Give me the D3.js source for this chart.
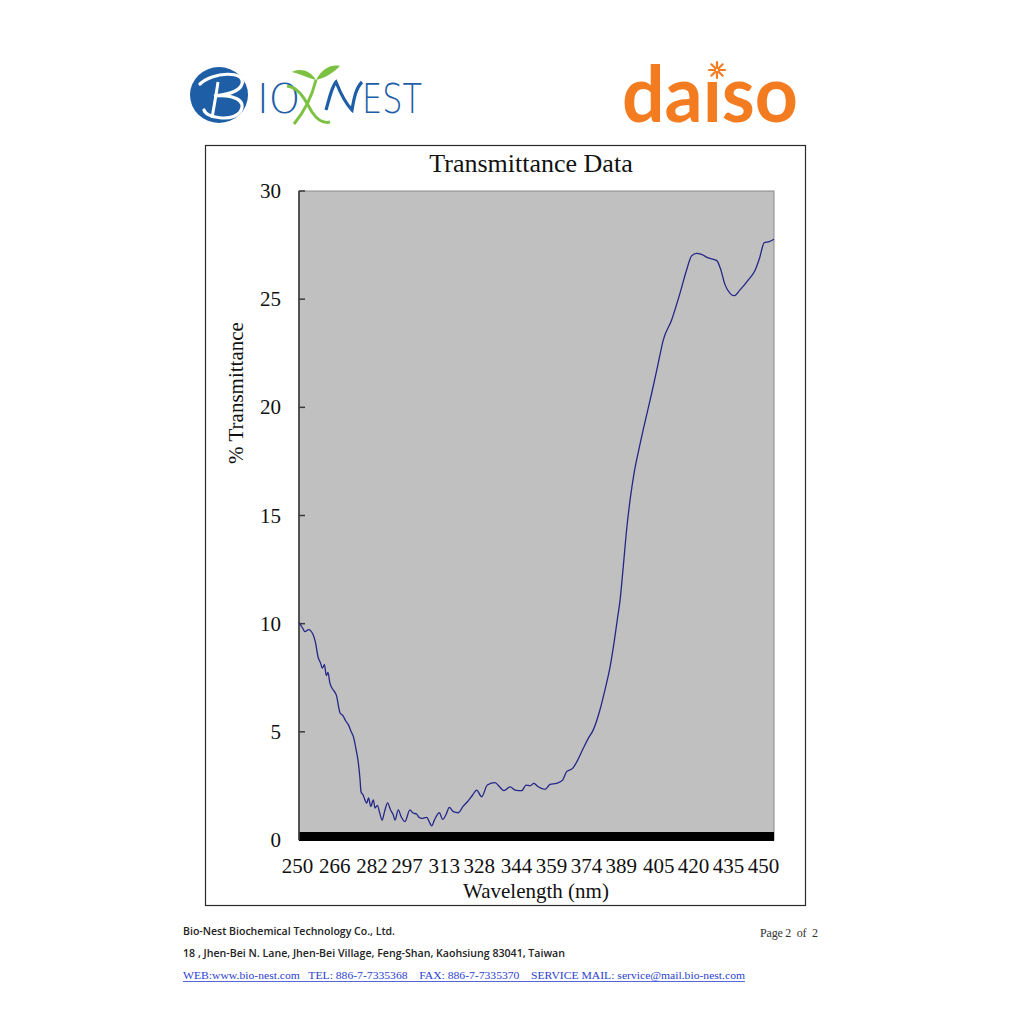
<!DOCTYPE html>
<html>
<head>
<meta charset="utf-8">
<script src="https://cdn.jsdelivr.net/npm/d3@7"></script>
<style>
  html, body { margin: 0; padding: 0; background: #ffffff; }
  svg { display: block; }
</style>
</head>
<body>
<svg id="page" width="1024" height="1024"></svg>
<script>
// ---------------- data ----------------
const wavelength = [
  250, 251.5, 252.5, 254, 256, 257, 258, 259, 259.8, 260.7, 261.5, 262.2, 263, 264, 265, 265.9,
  266.6, 267.3, 268.5, 269.7, 270.8, 272, 272.9, 274, 275, 275.7, 276.1, 277, 277.6, 278.5,
  279.3, 280.2, 281.3, 282, 283, 284, 285, 286, 287.3, 288.5, 289.7, 290.4, 291.8, 293, 294.6,
  296.7, 298, 299.5, 300.5, 301.7, 303.8, 305, 305.9, 307, 309.1, 310.5, 312, 313.3, 315, 317.1,
  319, 320.9, 323.1, 324.8, 326.9, 329.3, 332.5, 334.5, 336.3, 338.9, 341, 343.8, 345.6, 347.3,
  348.9, 350.7, 353.6, 355.7, 358.5, 361, 362.7, 365.2, 367, 369.7, 371.8, 373.9, 376.7, 378.8,
  381, 382.6, 384, 385.2, 386.5, 388, 389.5, 391, 393, 395, 398.5, 401, 403.4, 406.9, 410.4,
  413.2, 415.3, 417.4, 419.5, 422, 425.9, 427.4, 429.4, 431.5, 433.2, 435.7, 439.2, 442.1,
  443.9, 445.9, 448, 450
];
const transmittance = [
  10.05, 9.8, 9.63, 9.72, 9.48, 9.1, 8.47, 8.2, 7.95, 8.1, 7.6, 7.75, 7.26, 7.0, 6.85, 6.63,
  6.2, 5.87, 5.75, 5.5, 5.32, 5.0, 4.78, 4.2, 3.55, 2.8, 2.23, 2.08, 1.9, 1.7,
  1.95, 1.55, 1.85, 1.48, 1.6, 1.25, 0.92, 1.3, 1.72, 1.4, 1.16, 0.92, 1.39, 1.08, 0.85,
  1.39, 1.25, 1.2, 1.05, 1.0, 1.05, 0.8, 0.65, 0.92, 1.26, 0.95, 1.2, 1.51, 1.31, 1.26,
  1.54, 1.77, 2.08, 2.31, 2.0, 2.54, 2.65, 2.45, 2.28, 2.46, 2.31, 2.28, 2.54, 2.5,
  2.62, 2.46, 2.34, 2.57, 2.62, 2.77, 3.16, 3.31, 3.62, 4.24, 4.7, 5.09, 6.01, 6.93,
  8.01, 9.09, 10.17, 11.1, 12.6, 14.4, 15.8, 16.9, 18.0, 19.0, 20.65, 21.9, 23.12, 24.04, 25.27,
  26.35, 27.0, 27.12, 27.07, 26.92, 26.78, 26.43, 25.66, 25.27, 25.16, 25.43, 25.89, 26.35,
  26.89, 27.61, 27.66, 27.77
];
const xTickLabels = [250, 266, 282, 297, 313, 328, 344, 359, 374, 389, 405, 420, 435, 450];
const yTickValues = [0, 5, 10, 15, 20, 25, 30];

const chartTitle = "Transmittance Data";
const xTitle = "Wavelength (nm)";
const yTitle = "% Transmittance";

// ---------------- layout ----------------
const svg = d3.select("#page");
const frame = { left: 205, top: 145, right: 805, bottom: 905 };
const plot = { left: 299, top: 191, right: 774, bottom: 840 };

const x = d3.scaleLinear().domain([250, 450]).range([plot.left, plot.right]);
const xLab = d3.scaleLinear().domain([250, 450]).range([plot.left - 2, plot.right - 11]);
const y = d3.scaleLinear().domain([0, 30]).range([plot.bottom, plot.top]);

const serif = "'Liberation Serif', 'Times New Roman', serif";

// ---------------- logos ----------------
const logo = svg.append("g").attr("class", "logos");
// Bio-Nest logo
const blue = "#1d5ea6", green = "#7cc142";
logo.append("ellipse").attr("cx", 219).attr("cy", 95).attr("rx", 29).attr("ry", 28).attr("fill", blue);
logo.append("path")
  .attr("d", "M200,84 C212,72 246,70 242,84 C239,94 220,95 214,96 C232,94 248,100 240,112 C232,122 206,118 204,110")
  .attr("fill", "none").attr("stroke", "#ffffff").attr("stroke-width", 3.2).attr("stroke-linecap", "round");
logo.append("path")
  .attr("d", "M218,82 C216,96 214,106 212,118")
  .attr("fill", "none").attr("stroke", "#ffffff").attr("stroke-width", 3);
logo.append("text").attr("x", 257).attr("y", 113)
  .attr("font-family", "'DejaVu Sans', sans-serif").attr("font-size", 40).attr("font-weight", 300)
  .attr("fill", blue).text("IO");
// sprout
logo.append("path")
  .attr("d", "M287,86 C300,88 305,100 312,112 C316,118 322,124 330,122")
  .attr("fill", "none").attr("stroke", green).attr("stroke-width", 3);
logo.append("path")
  .attr("d", "M316,80 C312,96 304,112 294,124")
  .attr("fill", "none").attr("stroke", green).attr("stroke-width", 3);
logo.append("path")
  .attr("d", "M316,80 C310,70 300,68 292,72 C300,74 308,78 316,80 Z")
  .attr("fill", green);
logo.append("path")
  .attr("d", "M316,80 C322,68 332,64 340,66 C334,72 326,78 316,80 Z")
  .attr("fill", green);
logo.append("path")
  .attr("d", "M326,110 C330,96 332,86 336,82 C340,92 346,104 352,110 C354,98 356,88 362,82")
  .attr("fill", "none").attr("stroke", blue).attr("stroke-width", 3.2);
logo.append("text").attr("x", 362).attr("y", 113)
  .attr("font-family", "'DejaVu Sans', sans-serif").attr("font-size", 40).attr("font-weight", 300)
  .attr("fill", blue).attr("textLength", 60).attr("lengthAdjust", "spacingAndGlyphs").text("EST");

// daiso logo
const orange = "#f47c20";
logo.append("text").attr("x", 622).attr("y", 122)
  .attr("font-family", "Lato, sans-serif").attr("font-size", 78).attr("font-weight", 700)
  .attr("fill", orange).attr("textLength", 176).attr("lengthAdjust", "spacingAndGlyphs")
  .text("da\u0131so");
const ast = logo.append("g").attr("transform", "translate(717,70)");
d3.range(8).forEach(i => {
  const a = i * Math.PI / 4;
  ast.append("line").attr("x1", 2 * Math.cos(a)).attr("y1", 2 * Math.sin(a))
    .attr("x2", 8 * Math.cos(a)).attr("y2", 8 * Math.sin(a))
    .attr("stroke", orange).attr("stroke-width", 2.2).attr("stroke-linecap", "round");
});

// ---------------- chart frame ----------------
svg.append("rect")
  .attr("x", frame.left + 0.5).attr("y", frame.top + 0.5)
  .attr("width", frame.right - frame.left).attr("height", frame.bottom - frame.top)
  .attr("fill", "#ffffff").attr("stroke", "#2a2a2a").attr("stroke-width", 1.2);

svg.append("text")
  .attr("x", (frame.left + frame.right) / 2 + 26).attr("y", 172)
  .attr("text-anchor", "middle").attr("font-family", serif).attr("font-size", 26)
  .attr("fill", "#111").text(chartTitle);

// plot area
svg.append("rect")
  .attr("x", plot.left).attr("y", plot.top)
  .attr("width", plot.right - plot.left).attr("height", plot.bottom - plot.top)
  .attr("fill", "#c0c0c0").attr("stroke", "#8a8a8a").attr("stroke-width", 1);

// floor (black bar)
svg.append("rect")
  .attr("x", plot.left).attr("y", y(0) - 8)
  .attr("width", plot.right - plot.left).attr("height", 9)
  .attr("fill", "#000000");

// y axis line
svg.append("line")
  .attr("x1", plot.left).attr("x2", plot.left)
  .attr("y1", plot.top).attr("y2", plot.bottom)
  .attr("stroke", "#3a3a3a").attr("stroke-width", 1.6);

// y ticks (inward)
svg.append("g").selectAll("line").data(yTickValues.filter(v => v > 0)).join("line")
  .attr("x1", plot.left).attr("x2", plot.left + 6)
  .attr("y1", d => y(d)).attr("y2", d => y(d))
  .attr("stroke", "#3a3a3a").attr("stroke-width", 1.5);

// y tick labels
svg.append("g").selectAll("text").data(yTickValues).join("text")
  .attr("x", 281).attr("y", d => y(d) + 7)
  .attr("text-anchor", "end").attr("font-family", serif).attr("font-size", 21)
  .attr("fill", "#111").text(d => d);

// x tick labels (via d3 axis, without lines)
const xAxis = d3.axisBottom(xLab).tickValues(xTickLabels).tickFormat(d => d).tickSize(0).tickPadding(0);
const gx = svg.append("g").attr("transform", `translate(0, 858)`).call(xAxis);
gx.select(".domain").remove();
gx.selectAll("text").attr("font-family", serif).attr("font-size", 21).attr("fill", "#111")
  .attr("dy", "0.7em");

// axis titles
svg.append("text")
  .attr("x", 536).attr("y", 898).attr("text-anchor", "middle")
  .attr("font-family", serif).attr("font-size", 21).attr("fill", "#111").text(xTitle);
svg.append("text")
  .attr("transform", "translate(243,393) rotate(-90)").attr("text-anchor", "middle")
  .attr("font-family", serif).attr("font-size", 21).attr("fill", "#111").text(yTitle);

// data line
const pts = wavelength.map((w, i) => [w, transmittance[i]]);
svg.append("path")
  .datum(pts)
  .attr("d", d3.line().x(d => x(d[0])).y(d => y(d[1])).curve(d3.curveMonotoneX))
  .attr("fill", "none").attr("stroke", "#26268a").attr("stroke-width", 1.3)
  .attr("stroke-linejoin", "round");

// ---------------- footer ----------------
const sans = "'Open Sans', Lato, sans-serif";
svg.append("text").attr("x", 183).attr("y", 935)
  .attr("font-family", sans).attr("font-size", 10).attr("font-weight", 600).attr("fill", "#222")
  .attr("textLength", 212).attr("lengthAdjust", "spacingAndGlyphs")
  .text("Bio-Nest Biochemical Technology Co., Ltd.");
svg.append("text").attr("x", 760).attr("y", 937)
  .attr("font-family", serif).attr("font-size", 12).attr("fill", "#333")
  .style("white-space", "pre")
  .attr("textLength", 58).attr("lengthAdjust", "spacing")
  .text("Page 2  of  2");
svg.append("text").attr("x", 183).attr("y", 957)
  .attr("font-family", sans).attr("font-size", 10).attr("font-weight", 600).attr("fill", "#222")
  .attr("textLength", 382).attr("lengthAdjust", "spacingAndGlyphs")
  .text("18 , Jhen-Bei N. Lane, Jhen-Bei Village, Feng-Shan, Kaohsiung 83041, Taiwan");
svg.append("text").attr("x", 183).attr("y", 979)
  .attr("font-family", serif).attr("font-size", 11).attr("fill", "#2b3fd1")
  .style("white-space", "pre")
  .attr("textLength", 562).attr("lengthAdjust", "spacingAndGlyphs")
  .text("WEB:www.bio-nest.com   TEL: 886-7-7335368    FAX: 886-7-7335370    SERVICE MAIL: service@mail.bio-nest.com");
svg.append("line").attr("x1", 183).attr("x2", 745).attr("y1", 981.5).attr("y2", 981.5)
  .attr("stroke", "#2b3fd1").attr("stroke-width", 0.8);
</script>
</body>
</html>
